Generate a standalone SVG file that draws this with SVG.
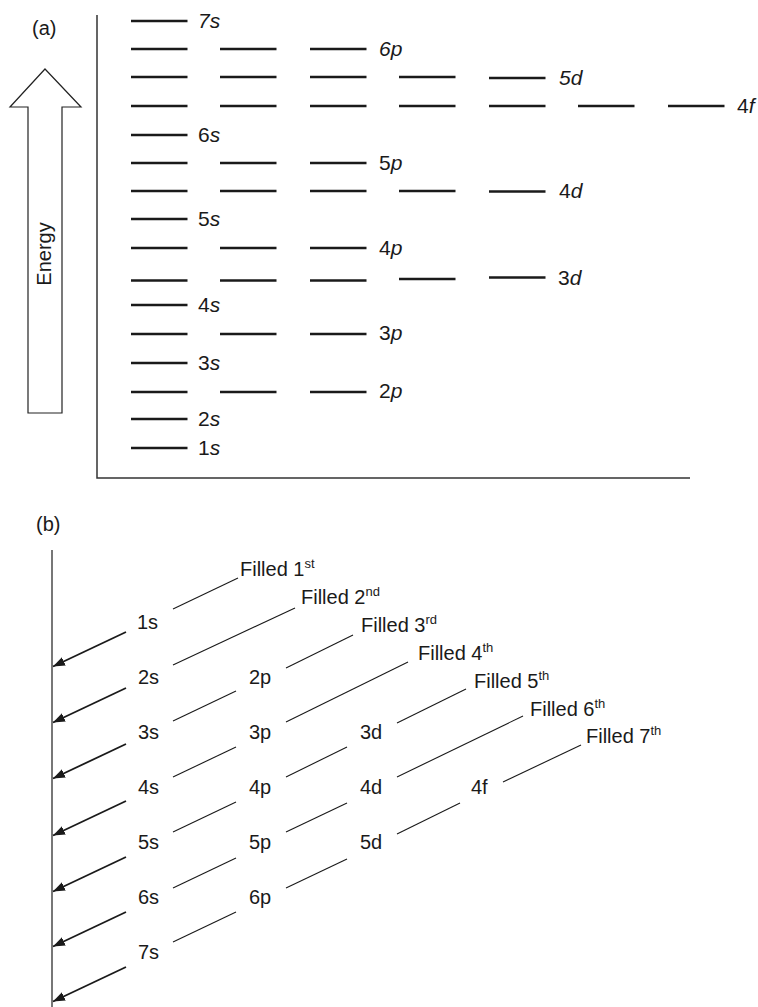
<svg xmlns="http://www.w3.org/2000/svg" width="758" height="1007" viewBox="0 0 758 1007">
  <defs>
    <style>
      text { font-family: "Liberation Sans", Arial, sans-serif; fill: #1a1a1a; }
      .panel { font-size: 20px; }
      .lbl { font-size: 20px; }
      .lv { font-size: 21px; }
      .it { font-style: italic; }
      .sup { font-size: 13px; }
      .axis { stroke: #333; stroke-width: 1.5; fill: none; }
      .lvl { stroke: #1a1a1a; stroke-width: 2.6; }
      .diag { stroke: #1a1a1a; stroke-width: 1.1; fill: none; }
      .arr { stroke: #1a1a1a; stroke-width: 1.8; fill: none; marker-end: url(#head); }
    </style>
    <marker id="head" markerUnits="userSpaceOnUse" markerWidth="14" markerHeight="10" refX="12" refY="4.5" orient="auto">
      <path d="M0,0 L12,4.5 L0,9 z" fill="#1a1a1a"/>
    </marker>
    <!-- one energy level bar -->
    <line id="bar" x1="0" y1="0" x2="56.5" y2="0" class="lvl"/>
  </defs>

  <!-- ===== (a) energy level diagram ===== -->
  <text class="panel" x="32" y="35">(a)</text>

  <g id="energy-arrow">
    <polygon points="45,69 81,107 62,107 62,413 28,413 28,107 10,107" fill="#fff" stroke="#222" stroke-width="1.2"/>
    <text class="lbl" transform="translate(51,254) rotate(-90)" text-anchor="middle">Energy</text>
  </g>

  <g id="axes">
    <polyline class="axis" points="97,15 97,478 690,478"/>
  </g>

  <g id="levels">
    <g id="lvl-7s"><use href="#bar" x="131" y="21"/><text class="lv it" x="198" y="28">7s</text></g>
    <g id="lvl-6p"><use href="#bar" x="131" y="49"/><use href="#bar" x="220" y="49"/><use href="#bar" x="310" y="49"/><text class="lv it" x="379" y="56">6p</text></g>
    <g id="lvl-5d"><use href="#bar" x="131" y="77"/><use href="#bar" x="220" y="77"/><use href="#bar" x="310" y="77"/><use href="#bar" x="399" y="77"/><use href="#bar" x="489" y="78"/><text class="lv it" x="559" y="85">5d</text></g>
    <g id="lvl-4f"><use href="#bar" x="131" y="106"/><use href="#bar" x="220" y="106"/><use href="#bar" x="310" y="106"/><use href="#bar" x="399" y="106"/><use href="#bar" x="489" y="106"/><use href="#bar" x="578" y="106"/><use href="#bar" x="668" y="106"/><text class="lv" x="737" y="113">4<tspan class="it">f</tspan></text></g>
    <g id="lvl-6s"><use href="#bar" x="131" y="135"/><text class="lv" x="198" y="142">6<tspan class="it">s</tspan></text></g>
    <g id="lvl-5p"><use href="#bar" x="131" y="163"/><use href="#bar" x="220" y="163"/><use href="#bar" x="310" y="163"/><text class="lv" x="379" y="170">5<tspan class="it">p</tspan></text></g>
    <g id="lvl-4d"><use href="#bar" x="131" y="191"/><use href="#bar" x="220" y="191"/><use href="#bar" x="310" y="191"/><use href="#bar" x="399" y="191"/><use href="#bar" x="489" y="191.5"/><text class="lv" x="559" y="198">4<tspan class="it">d</tspan></text></g>
    <g id="lvl-5s"><use href="#bar" x="131" y="219"/><text class="lv" x="198" y="226">5<tspan class="it">s</tspan></text></g>
    <g id="lvl-4p"><use href="#bar" x="131" y="248"/><use href="#bar" x="220" y="248"/><use href="#bar" x="310" y="248"/><text class="lv" x="379" y="255">4<tspan class="it">p</tspan></text></g>
    <g id="lvl-3d"><use href="#bar" x="131" y="280.5"/><use href="#bar" x="220" y="280.5"/><use href="#bar" x="310" y="280.5"/><use href="#bar" x="399" y="279"/><use href="#bar" x="489" y="277.5"/><text class="lv" x="558" y="285">3<tspan class="it">d</tspan></text></g>
    <g id="lvl-4s"><use href="#bar" x="131" y="305"/><text class="lv" x="198" y="312">4<tspan class="it">s</tspan></text></g>
    <g id="lvl-3p"><use href="#bar" x="131" y="334"/><use href="#bar" x="220" y="334"/><use href="#bar" x="310" y="334"/><text class="lv" x="379" y="340">3<tspan class="it">p</tspan></text></g>
    <g id="lvl-3s"><use href="#bar" x="131" y="363"/><text class="lv" x="198" y="370">3<tspan class="it">s</tspan></text></g>
    <g id="lvl-2p"><use href="#bar" x="131" y="392"/><use href="#bar" x="220" y="392"/><use href="#bar" x="310" y="392"/><text class="lv" x="379" y="398">2<tspan class="it">p</tspan></text></g>
    <g id="lvl-2s"><use href="#bar" x="131" y="419"/><text class="lv" x="198" y="426">2<tspan class="it">s</tspan></text></g>
    <g id="lvl-1s"><use href="#bar" x="131" y="448"/><text class="lv" x="198" y="455">1<tspan class="it">s</tspan></text></g>
  </g>

  <!-- ===== (b) filling order chart ===== -->
  <text class="panel" x="36" y="531">(b)</text>

  <g id="orbitals">
    <g id="o-1s"><text class="lbl" x="137" y="629">1s</text></g>
    <g id="o-2s"><text class="lbl" x="138" y="684">2s</text></g>
    <g id="o-2p"><text class="lbl" x="249" y="684">2p</text></g>
    <g id="o-3s"><text class="lbl" x="138" y="739">3s</text></g>
    <g id="o-3p"><text class="lbl" x="249" y="739">3p</text></g>
    <g id="o-3d"><text class="lbl" x="360" y="739">3d</text></g>
    <g id="o-4s"><text class="lbl" x="138" y="794">4s</text></g>
    <g id="o-4p"><text class="lbl" x="249" y="794">4p</text></g>
    <g id="o-4d"><text class="lbl" x="360" y="794">4d</text></g>
    <g id="o-4f"><text class="lbl" x="471" y="794">4f</text></g>
    <g id="o-5s"><text class="lbl" x="138" y="849">5s</text></g>
    <g id="o-5p"><text class="lbl" x="249" y="849">5p</text></g>
    <g id="o-5d"><text class="lbl" x="360" y="849">5d</text></g>
    <g id="o-6s"><text class="lbl" x="138" y="904">6s</text></g>
    <g id="o-6p"><text class="lbl" x="249" y="904">6p</text></g>
    <g id="o-7s"><text class="lbl" x="138" y="959">7s</text></g>
  </g>

  <g id="fill-order">
    <g id="f-1"><text class="lbl" x="240" y="576">Filled 1<tspan class="sup" dy="-8">st</tspan></text></g>
    <g id="f-2"><text class="lbl" x="301" y="604">Filled 2<tspan class="sup" dy="-8">nd</tspan></text></g>
    <g id="f-3"><text class="lbl" x="361" y="632">Filled 3<tspan class="sup" dy="-8">rd</tspan></text></g>
    <g id="f-4"><text class="lbl" x="418" y="660">Filled 4<tspan class="sup" dy="-8">th</tspan></text></g>
    <g id="f-5"><text class="lbl" x="474" y="688">Filled 5<tspan class="sup" dy="-8">th</tspan></text></g>
    <g id="f-6"><text class="lbl" x="530" y="716">Filled 6<tspan class="sup" dy="-8">th</tspan></text></g>
    <g id="f-7"><text class="lbl" x="586" y="743">Filled 7<tspan class="sup" dy="-8">th</tspan></text></g>
  </g>

  <g id="connectors">
    <!-- principal-shell axis -->
    <line x1="52" y1="550" x2="52" y2="1007" stroke="#555" stroke-width="1.6"/>
    <!-- arrows into the axis -->
    <line class="arr" x1="126" y1="632" x2="53" y2="666.5"/>
    <line class="arr" x1="126" y1="688" x2="53" y2="722.5"/>
    <line class="arr" x1="126" y1="744" x2="53" y2="778.5"/>
    <line class="arr" x1="126" y1="801" x2="53" y2="835.5"/>
    <line class="arr" x1="126" y1="857" x2="53" y2="891.5"/>
    <line class="arr" x1="126" y1="912" x2="53" y2="946.5"/>
    <line class="arr" x1="126" y1="967" x2="53" y2="1001.5"/>
    <!-- diagonals -->
    <line class="diag" x1="173" y1="609" x2="238" y2="578"/>
    <line class="diag" x1="173" y1="665" x2="295" y2="608"/>
    <line class="diag" x1="173" y1="721" x2="236" y2="691"/>
    <line class="diag" x1="286" y1="668" x2="353" y2="635"/>
    <line class="diag" x1="173" y1="777" x2="236" y2="747"/>
    <line class="diag" x1="286" y1="722" x2="408" y2="662"/>
    <line class="diag" x1="173" y1="832" x2="236" y2="802"/>
    <line class="diag" x1="286" y1="777" x2="347" y2="747"/>
    <line class="diag" x1="397" y1="723" x2="466" y2="689"/>
    <line class="diag" x1="173" y1="888" x2="236" y2="858"/>
    <line class="diag" x1="286" y1="832" x2="347" y2="803"/>
    <line class="diag" x1="397" y1="777" x2="523" y2="716"/>
    <line class="diag" x1="173" y1="942" x2="236" y2="912"/>
    <line class="diag" x1="286" y1="888" x2="347" y2="859"/>
    <line class="diag" x1="397" y1="834" x2="460" y2="803"/>
    <line class="diag" x1="503" y1="782" x2="581" y2="745"/>
  </g>
</svg>
